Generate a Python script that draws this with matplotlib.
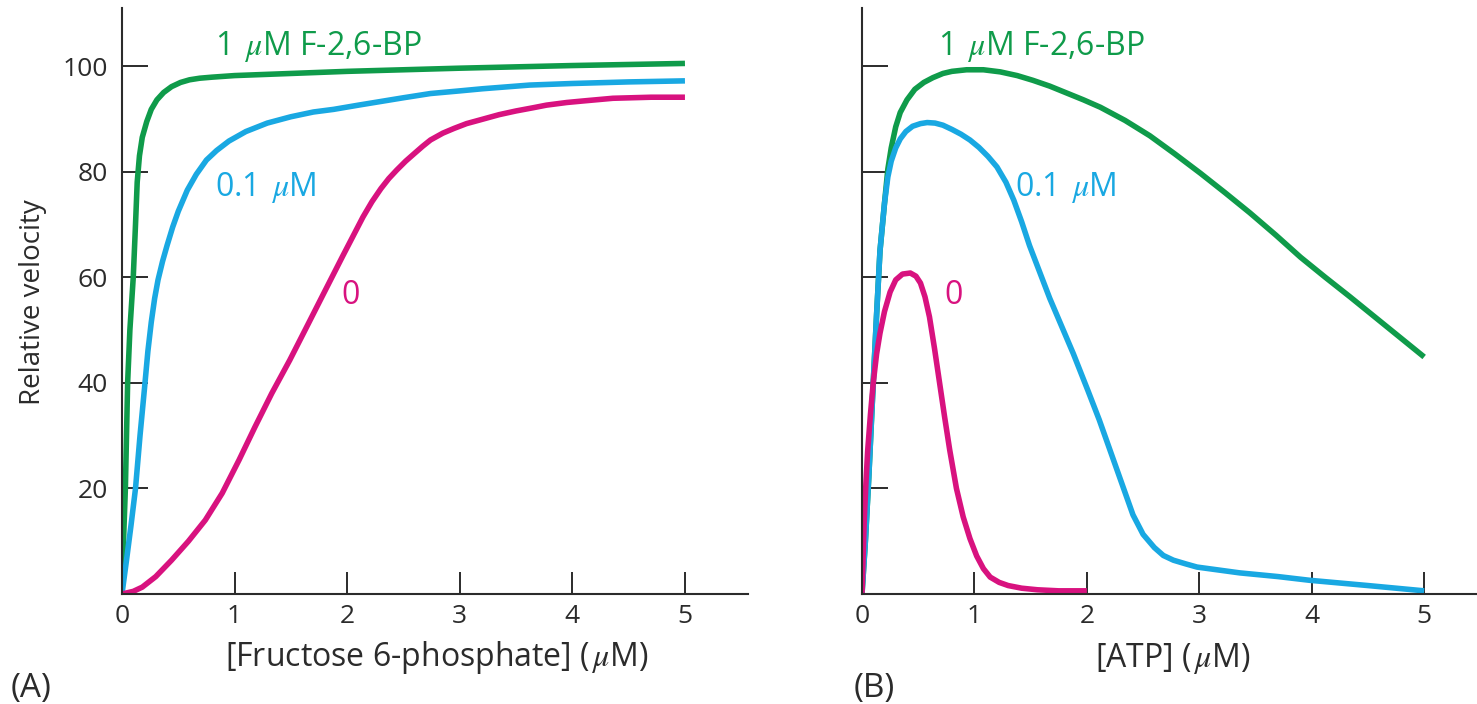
import matplotlib
matplotlib.use("Agg")
import matplotlib.pyplot as plt

plt.rcParams['font.family'] = ['Open Sans', 'DejaVu Sans']
plt.rcParams['mathtext.fontset'] = 'stix'

green = "#0f9b4a"
blue = "#19a8e2"
magenta = "#d8127f"
dark = "#2b2b2b"

# (A) velocity vs [fructose 6-phosphate]
f6p_x_hi = [0, 0.01, 0.02, 0.03, 0.05, 0.07, 0.1, 0.12, 0.135, 0.155, 0.18, 0.22,
            0.26, 0.31, 0.37, 0.44, 0.52, 0.6, 0.69, 0.8, 1.0, 1.5, 2.0, 3.0, 4.0, 5.0]
f6p_y_hi = [0, 8, 14, 20, 40, 50, 60, 70, 78, 83, 86.5, 89.5,
            91.8, 93.6, 95.0, 96.1, 96.9, 97.4, 97.7, 97.9, 98.2, 98.6, 99.0, 99.6, 100.1, 100.5]

f6p_x_mid = [0, 0.04, 0.08, 0.12, 0.16, 0.2, 0.23, 0.26, 0.29, 0.32, 0.36, 0.4,
             0.45, 0.5, 0.58, 0.66, 0.75, 0.84, 0.95, 1.1, 1.29, 1.5, 1.7, 1.88,
             2.1, 2.3, 2.5, 2.74, 3.0, 3.2, 3.62, 4.0, 4.5, 5.0]
f6p_y_mid = [0, 6.4, 13, 20, 30, 39, 46, 51.5, 56, 59.5, 63, 66,
             69.5, 72.5, 76.5, 79.5, 82.2, 84, 85.8, 87.6, 89.2, 90.4, 91.3, 91.8,
             92.6, 93.3, 94.0, 94.8, 95.3, 95.7, 96.4, 96.7, 97.0, 97.2]

f6p_x_zero = [0, 0.1, 0.18, 0.3, 0.44, 0.59, 0.74, 0.89, 1.04, 1.18, 1.33, 1.49,
              1.65, 1.8, 1.96, 2.14, 2.22, 2.3, 2.37, 2.44, 2.52, 2.6, 2.67, 2.74,
              2.85, 2.95, 3.06, 3.18, 3.35, 3.5, 3.65, 3.77, 3.95, 4.1, 4.36, 4.7, 5.0]
f6p_y_zero = [0, 0.5, 1.3, 3.3, 6.4, 10, 14, 19.1, 25.4, 31.6, 38, 44.3,
              51, 57.3, 64, 71.4, 74.3, 76.8, 78.7, 80.3, 82, 83.5, 84.8, 86,
              87.3, 88.2, 89.1, 89.8, 90.8, 91.5, 92.1, 92.6, 93.1, 93.4, 93.9, 94.1, 94.1]

# (B) velocity vs [ATP]
atp_x_hi = [0, 0.03, 0.06, 0.1, 0.13, 0.16, 0.2, 0.23, 0.26, 0.3, 0.34, 0.4,
            0.47, 0.55, 0.63, 0.72, 0.8, 0.93, 1.08, 1.23, 1.38, 1.52, 1.67, 1.82,
            1.97, 2.12, 2.34, 2.56, 2.78, 3.01, 3.23, 3.45, 3.68, 3.9, 4.12, 4.34,
            4.67, 5.0]
atp_y_hi = [0, 10, 22, 40, 53, 65, 74, 80.5, 84.5, 88.5, 91.2, 93.6,
            95.6, 96.9, 97.8, 98.6, 99.0, 99.3, 99.3, 98.9, 98.2, 97.3, 96.2, 94.9,
            93.6, 92.2, 89.7, 86.8, 83.4, 79.7, 76.0, 72.2, 68.0, 63.8, 60.0, 56.3,
            50.6, 44.9]

atp_x_mid = [0, 0.03, 0.06, 0.1, 0.13, 0.16, 0.2, 0.23, 0.26, 0.3, 0.34, 0.39,
             0.45, 0.52, 0.58, 0.65, 0.72, 0.8, 0.88, 0.96, 1.04, 1.12, 1.2, 1.28,
             1.35, 1.42, 1.49, 1.58, 1.67, 1.78, 1.88, 2.01, 2.11, 2.21, 2.31, 2.41,
             2.5, 2.6, 2.68, 2.77, 2.88, 2.98, 3.36, 3.7, 3.98, 4.5, 5.0]
atp_y_mid = [0, 10, 22, 40, 53, 65, 74, 79, 82, 84.5, 86.2, 87.6,
             88.6, 89.1, 89.3, 89.2, 88.8, 88.0, 87.1, 86.0, 84.6, 82.9, 80.9, 78.0,
             74.6, 70.5, 66.0, 61.0, 56.0, 50.5, 45.5, 38.5, 33.0, 27.0, 21.0, 15.0,
             11.3, 8.8, 7.3, 6.4, 5.7, 5.1, 4.0, 3.3, 2.6, 1.6, 0.6]

atp_x_zero = [0, 0.01, 0.02, 0.035, 0.05, 0.075, 0.1, 0.13, 0.16, 0.2, 0.25, 0.3,
              0.36, 0.43, 0.48, 0.52, 0.56, 0.6, 0.645, 0.69, 0.735, 0.78, 0.84, 0.9,
              0.96, 1.02, 1.08, 1.14, 1.22, 1.3, 1.42, 1.56, 1.75, 2.0]
atp_y_zero = [0, 7, 14, 21, 27, 34, 40, 45.5, 49.4, 53.5, 57.2, 59.5,
              60.6, 60.8, 60.2, 58.9, 56.3, 52.5, 46.5, 40, 33.5, 27.3, 20, 14.6,
              10.5, 7.2, 4.8, 3.2, 2.2, 1.6, 1.1, 0.8, 0.6, 0.6]

yticks = [20, 40, 60, 80, 100]
xticks = [0, 1, 2, 3, 4, 5]

fig = plt.figure(figsize=(14.77, 7.04), dpi=100)
ax1 = fig.add_axes([122/1477, 110/704, 626/1477, 586/704])
ax2 = fig.add_axes([862/1477, 110/704, 615/1477, 586/704])

lw = 4
kw = dict(lw=lw, solid_capstyle='butt', solid_joinstyle='round')
ax1.plot(f6p_x_hi, f6p_y_hi, color=green, zorder=3, **kw)
ax1.plot(f6p_x_mid, f6p_y_mid, color=blue, zorder=4, **kw)
ax1.plot(f6p_x_zero, f6p_y_zero, color=magenta, zorder=5, **kw)

ax2.plot(atp_x_hi, atp_y_hi, color=green, zorder=3, **kw)
ax2.plot(atp_x_mid, atp_y_mid, color=blue, zorder=4, **kw)
ax2.plot(atp_x_zero, atp_y_zero, color=magenta, zorder=5, **kw)

for ax, xmax in [(ax1, 5.56), (ax2, 5.47)]:
    ax.set_xlim(0, xmax)
    ax.set_ylim(0, 111)
    for s in ['top', 'right']:
        ax.spines[s].set_visible(False)
    for s in ['left', 'bottom']:
        ax.spines[s].set_color(dark)
        ax.spines[s].set_linewidth(1.5)
        ax.spines[s].set_zorder(6)
    ax.set_xticks(xticks)
    ax.set_yticks(yticks)
    ax.tick_params(axis='x', direction='in', length=16, width=1.4, color=dark,
                   labelsize=19, labelcolor=dark, pad=7)
    ax.tick_params(axis='y', direction='in', length=19, width=1.4, color=dark,
                   labelsize=19, labelcolor=dark, pad=10)

ax2.set_yticklabels([])

fs = 23
ax1.text(0.83, 103.8, r"1 $\,\mu$M F-2,6-BP", color=green, fontsize=fs, va='center')
ax1.text(0.83, 77, r"0.1 $\,\mu$M", color=blue, fontsize=fs, va='center')
ax1.text(1.95, 56.6, "0", color=magenta, fontsize=fs, va='center')

ax2.text(0.68, 103.8, r"1 $\,\mu$M F-2,6-BP", color=green, fontsize=fs, va='center')
ax2.text(1.36, 77, r"0.1 $\,\mu$M", color=blue, fontsize=fs, va='center')
ax2.text(0.73, 56.6, "0", color=magenta, fontsize=fs, va='center')

fig.text(33/1477, 1 - 302/704, "Relative velocity", rotation=90, ha='center',
         va='center', fontsize=20, color=dark)
fig.text(437/1477, 1 - 658/704, r"[Fructose 6-phosphate] ($\,\mu$M)", ha='center',
         va='center', fontsize=23, color=dark)
fig.text(1173/1477, 1 - 658/704, r"[ATP] ($\,\mu$M)", ha='center',
         va='center', fontsize=23, color=dark)
fig.text(11/1477, 1 - 688/704, "(A)", ha='left', va='center', fontsize=24, color=dark)
fig.text(854/1477, 1 - 688/704, "(B)", ha='left', va='center', fontsize=24, color=dark)

fig.savefig("out.png", dpi=100, facecolor='white')
